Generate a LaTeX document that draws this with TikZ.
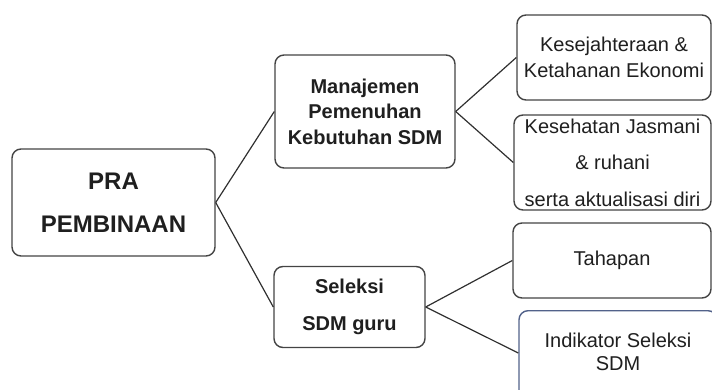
\documentclass[tikz,border=0pt]{standalone}
\usepackage{fontspec}
\setmainfont{Liberation Sans}
\definecolor{ink}{HTML}{444444}
\definecolor{wire}{HTML}{303030}
\definecolor{slate}{HTML}{52628A}

\begin{document}
\begin{tikzpicture}[
  x=1pt, y=-1pt,
  tbox/.style={draw=ink, line width=1.4pt, rounded corners=9pt, fill=white,
               align=center, inner sep=0pt, text=black!88},
  pra/.style={tbox, font=\bfseries\fontsize{24}{43}\selectfont},
  mid/.style={tbox, font=\bfseries\fontsize{20}{25.5}\selectfont},
  leaf/.style={tbox, font=\fontsize{20}{26}\selectfont},
  link/.style={draw=wire, line width=1.2pt}
]
\useasboundingbox (0,0) rectangle (712,389);
\clip (0,0) rectangle (712,389);

\node[pra, minimum width=203pt, minimum height=107pt] (root) at (113.5,202.5) {PRA\\PEMBINAAN};

\node[mid, minimum width=180pt, minimum height=113pt] (manaj) at (365,111.5)
     {Manajemen\\Pemenuhan\\Kebutuhan SDM};
\node[mid, minimum width=151pt, minimum height=81pt, font=\bfseries\fontsize{20}{37}\selectfont]
     (seleksi) at (349.5,307) {Seleksi\\SDM guru};

\node[leaf, minimum width=194pt, minimum height=85pt] (sejah) at (614,57.5)
     {Kesejahteraan \&\\Ketahanan Ekonomi};
\node[leaf, minimum width=197pt, minimum height=95pt, font=\fontsize{20}{36.5}\selectfont]
     (jasmani) at (612.5,162.5) {Kesehatan Jasmani\\\& ruhani\\serta aktualisasi diri};
\node[leaf, minimum width=198pt, minimum height=75pt] (tahap) at (612,260.5) {Tahapan};
% cut off by the page edge, as in the scan
\node[leaf, draw=slate, anchor=north, minimum width=198pt, inner ysep=22pt, text depth=20pt,
      font=\fontsize{20}{23}\selectfont] (indik) at (618,310) {Indikator Seleksi\\SDM};

\draw[link] (root.east) -- (manaj.west);
\draw[link] (root.east) -- (seleksi.west);
\draw[link] (manaj.east) -- (sejah.west);
\draw[link] (manaj.east) -- (jasmani.west);
\draw[link] (seleksi.east) -- (tahap.west);
\draw[link] (seleksi.east) -- ([yshift=-43pt]indik.north west);
\end{tikzpicture}
\end{document}
